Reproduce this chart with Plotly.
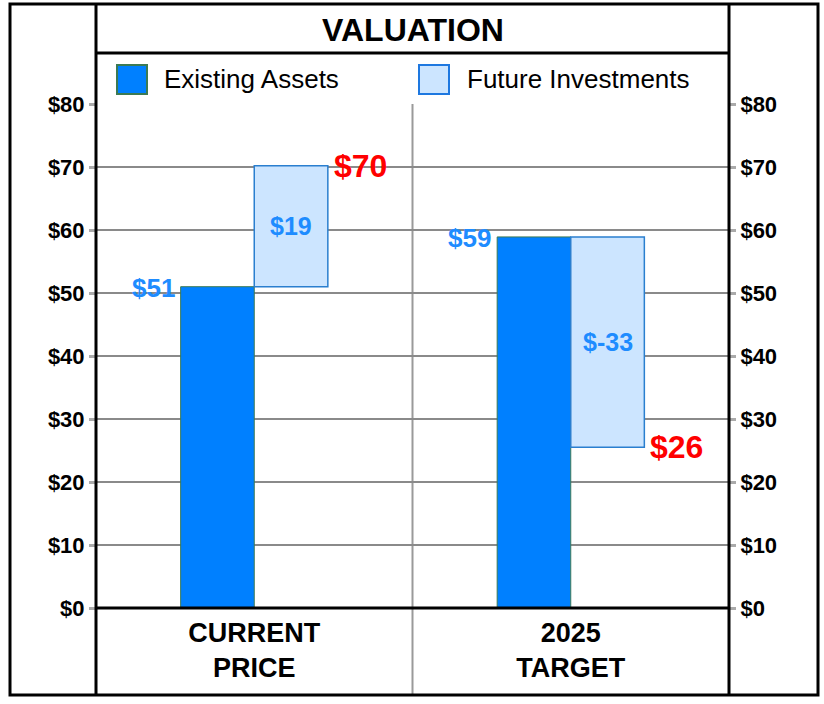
import plotly.graph_objects as go

# ---- data ----
categories = ["CURRENT<br>PRICE", "2025<br>TARGET"]
existing_assets = [51.0, 58.9]
future_investments = [19.2, -33.4]
series_names = ["Existing Assets", "Future Investments"]
y_ticks = [0, 10, 20, 30, 40, 50, 60, 70, 80]
y_tick_labels = ["$" + str(v) for v in y_ticks]
title_text = "VALUATION"

# ---- styles ----
FONT = "Liberation Sans"
BLUE = "#0080FF"
LIGHT = "#CCE5FF"
LBL_BLUE = "#1E8CFF"
RED = "#FF0000"
BARGAP = 0.535
W = (1 - BARGAP) / 2  # width of each bar in category units

totals = [e + f for e, f in zip(existing_assets, future_investments)]

fig = go.Figure()
fig.add_trace(go.Bar(
    x=categories, y=existing_assets, name=series_names[0],
    marker=dict(color=BLUE, line=dict(color="#3C7A54", width=1)),
    showlegend=False, hoverinfo="skip"))
fig.add_trace(go.Bar(
    x=categories, y=future_investments, base=existing_assets, name=series_names[1],
    marker=dict(color=LIGHT, line=dict(color="#2A7FCF", width=1.5)),
    showlegend=False, hoverinfo="skip"))
# invisible trace to carry the right-hand axis
fig.add_trace(go.Scatter(x=categories, y=[0, 0], yaxis="y2", mode="markers",
                         marker=dict(opacity=0), showlegend=False, hoverinfo="skip"))

def money(v):
    return "$" + str(int(round(v)))

ann = []
for i, (e, f, t) in enumerate(zip(existing_assets, future_investments, totals)):
    ann.append(dict(x=i - W, y=e, xref="x", yref="y", text=money(e), showarrow=False,
                    xanchor="right", yanchor="middle", xshift=-4, yshift=-1,
                    font=dict(family=FONT, size=26, color=LBL_BLUE, weight="bold")))
    ann.append(dict(x=i + W / 2, y=e + f / 2, xref="x", yref="y", text=money(f), showarrow=False,
                    xanchor="center", yanchor="middle",
                    font=dict(family=FONT, size=25, color=LBL_BLUE, weight="bold")))
    ann.append(dict(x=i + W, y=t, xref="x", yref="y", text=money(t), showarrow=False,
                    xanchor="left", yanchor="middle", xshift=4,
                    font=dict(family=FONT, size=32, color=RED, weight="bold")))

# title
ann.append(dict(x=0.5, y=1.147, xref="paper", yref="paper", text=title_text, showarrow=False,
                xanchor="center", yanchor="middle",
                font=dict(family=FONT, size=32, color="black", weight="bold")))

# helpers: convert reference-picture pixels to paper coordinates
PX = 633.0
PY = 504.0
def px2x(px):
    return (px - 96) / PX
def py2y(py):
    return (608 - py) / PY

legend_items = [(series_names[0], BLUE, "#3C7A54", 117, 162),
                (series_names[1], LIGHT, "#1E78E0", 419, 465)]
shapes = []
for name, fill, line, sx, tx in legend_items:
    shapes.append(dict(type="rect", xref="paper", yref="paper",
                       x0=px2x(sx), x1=px2x(sx + 30), y0=py2y(94), y1=py2y(65),
                       fillcolor=fill, line=dict(color=line, width=2)))
    ann.append(dict(x=px2x(tx), y=py2y(79), xref="paper", yref="paper", text=name,
                    showarrow=False, xanchor="left", yanchor="middle",
                    font=dict(family=FONT, size=26, color="black")))

# frame lines
top = py2y(4)
bot = py2y(695)
shapes += [
    dict(type="line", xref="paper", yref="paper", x0=0.5, x1=0.5, y0=bot, y1=1,
         line=dict(color="#9a9a9a", width=2), layer="below"),
    dict(type="rect", xref="paper", yref="paper", x0=px2x(10), x1=px2x(818), y0=bot, y1=top,
         line=dict(color="black", width=3)),
    dict(type="line", xref="paper", yref="paper", x0=0, x1=0, y0=bot, y1=top,
         line=dict(color="black", width=3)),
    dict(type="line", xref="paper", yref="paper", x0=1, x1=1, y0=bot, y1=top,
         line=dict(color="black", width=3)),
    dict(type="line", xref="paper", yref="paper", x0=0, x1=1, y0=py2y(53), y1=py2y(53),
         line=dict(color="black", width=3)),
    dict(type="line", xref="paper", yref="paper", x0=0, x1=1, y0=0, y1=0,
         line=dict(color="black", width=3)),
]

axis_common = dict(range=[0, 80], tickmode="array", tickvals=y_ticks, ticktext=y_tick_labels,
                   tickfont=dict(family=FONT, size=22, color="black", weight="bold"),
                   ticks="outside", ticklen=6, tickwidth=3, tickcolor="#aaaaaa",
                   zeroline=False, showline=False, fixedrange=True)

fig.update_layout(
    width=824, height=704,
    margin=dict(l=96, r=95, t=104, b=96),
    paper_bgcolor="white", plot_bgcolor="white",
    barmode="group", bargap=BARGAP, bargroupgap=0,
    showlegend=False,
    xaxis=dict(type="category", tickfont=dict(family=FONT, size=27, color="black", weight="bold"),
               showgrid=False, zeroline=False, showline=False, ticks="", ticklabelstandoff=6,
               fixedrange=True),
    yaxis=dict(showgrid=True, gridcolor="#8a8a8a", gridwidth=1.5, side="left", **axis_common),
    yaxis2=dict(overlaying="y", side="right", showgrid=False, **axis_common),
    annotations=ann,
    shapes=shapes,
)

fig.write_html("out.html", config={"displayModeBar": False},
               post_script="document.body.style.margin='0';document.body.style.overflow='hidden';")
